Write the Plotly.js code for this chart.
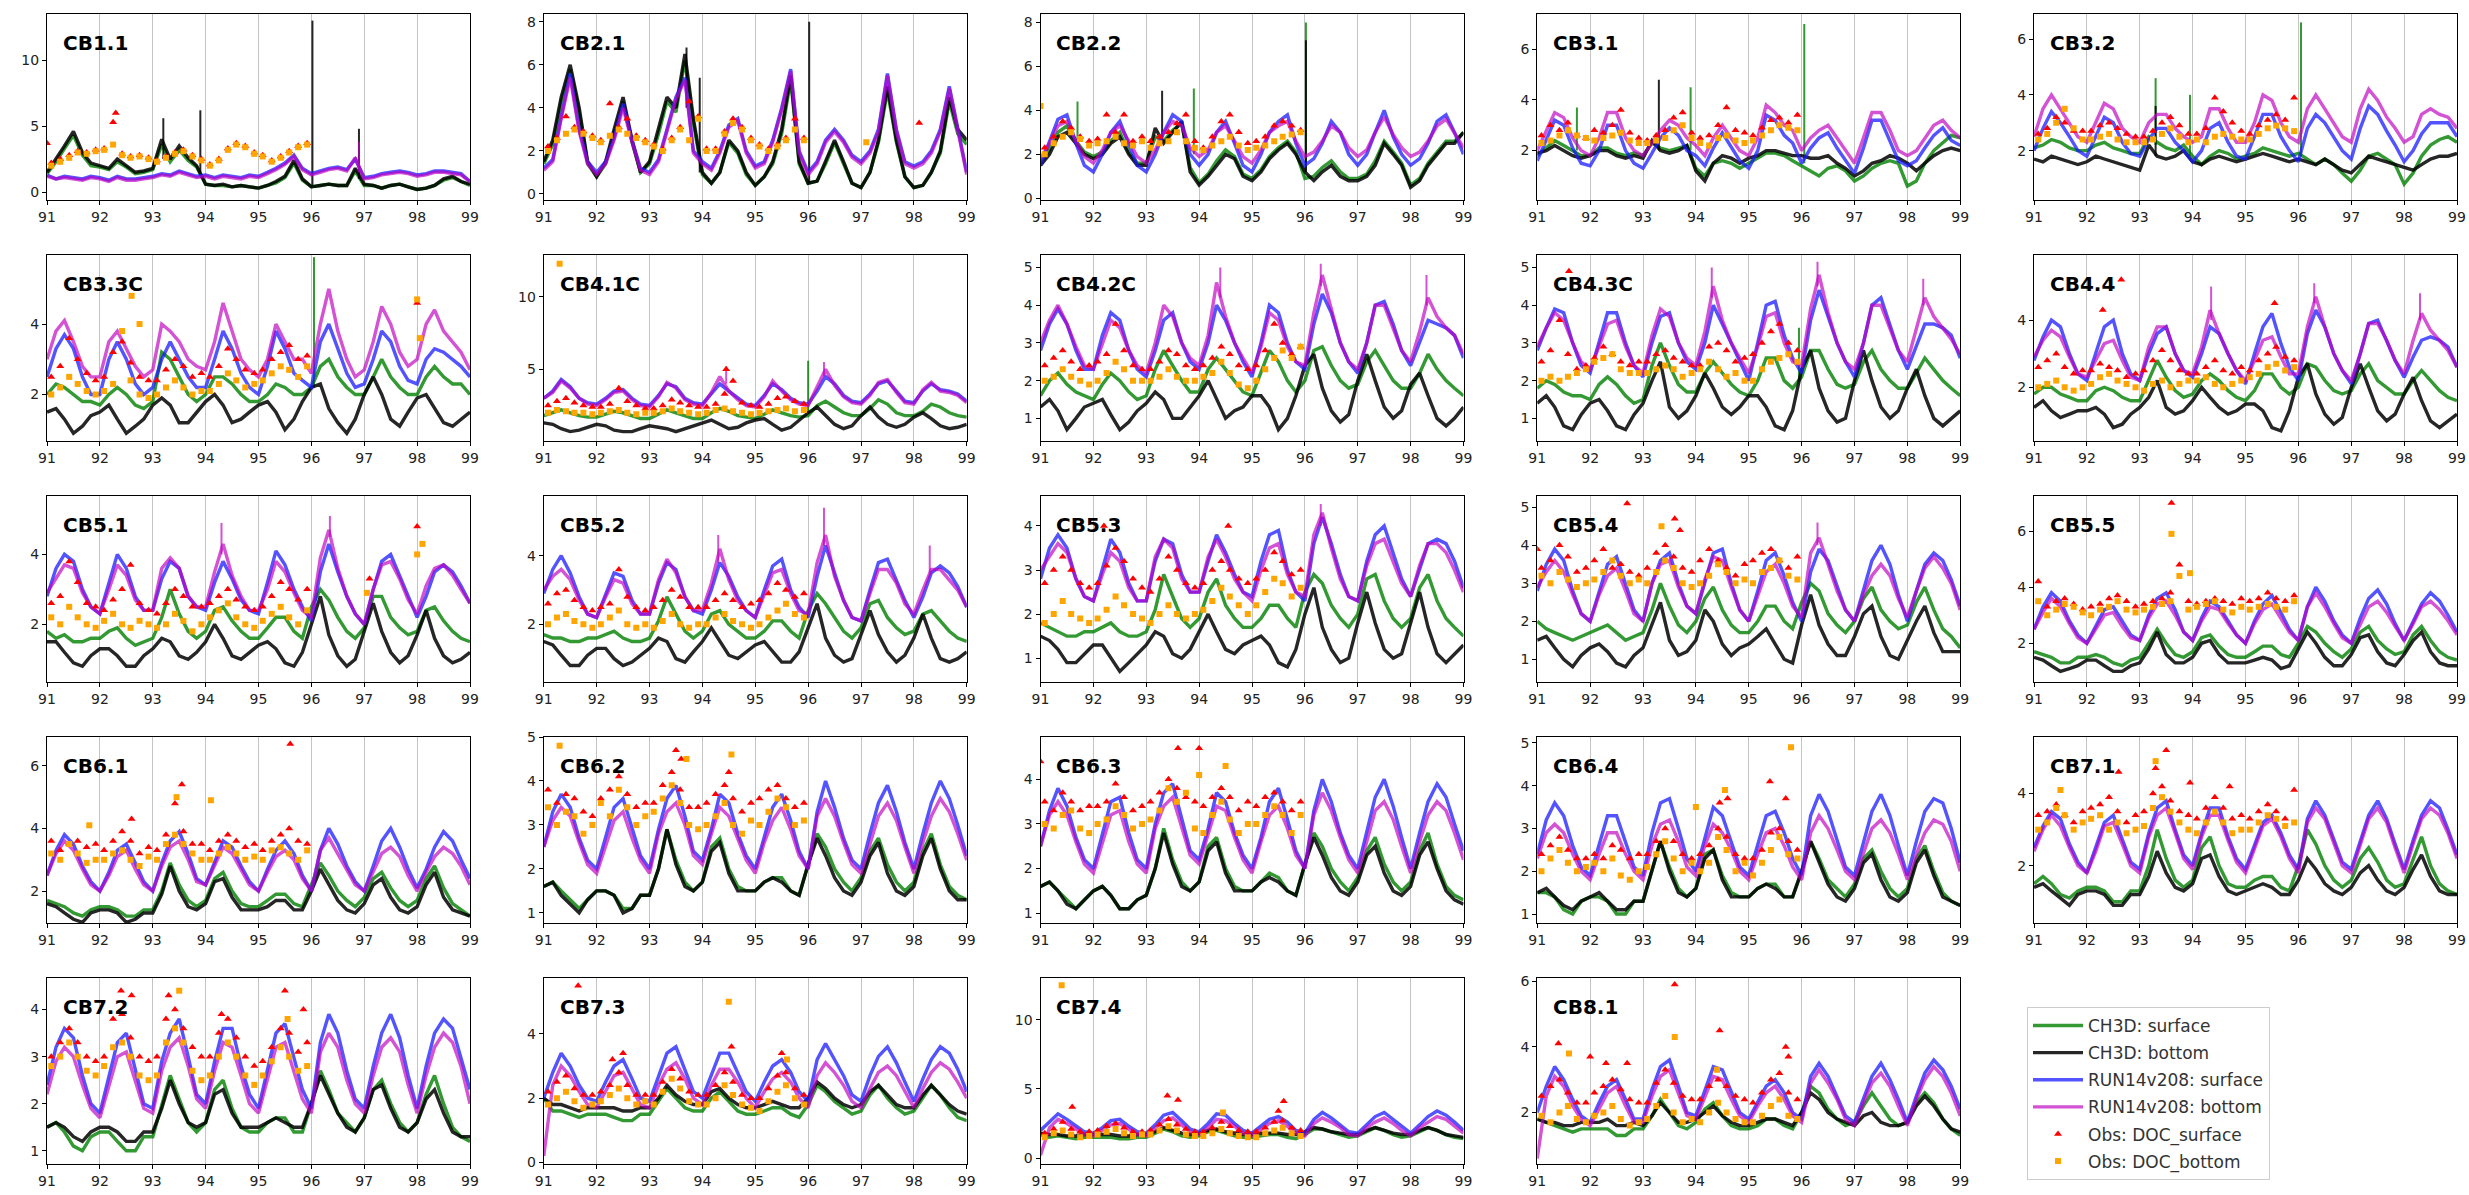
<!DOCTYPE html>
<html>
<head>
<meta charset="utf-8">
<script src="https://cdn.plot.ly/plotly-3.0.1.min.js"></script>
<style>
  html, body { margin: 0; padding: 0; background: #ffffff; }
  #chart { width: 2469px; height: 1195px; }
</style>
</head>
<body>
<div id="chart"></div>
<script>
// ---------------------------------------------------------------------------
// DOC time series (mg/L) at Chesapeake Bay stations, 1991-1999.
// Model output sampled every two months; observations 1991-1995.
// ---------------------------------------------------------------------------

const stations = ['CB1.1','CB2.1','CB2.2','CB3.1','CB3.2','CB3.3C','CB4.1C','CB4.2C','CB4.3C','CB4.4',
                  'CB5.1','CB5.2','CB5.3','CB5.4','CB5.5','CB6.1','CB6.2','CB6.3','CB6.4','CB7.1',
                  'CB7.2','CB7.3','CB7.4','CB8.1'];

const seriesNames = ['CH3D: surface','CH3D: bottom','RUN14v208: surface','RUN14v208: bottom',
                     'Obs: DOC_surface','Obs: DOC_bottom'];

const yearTicks = [91,92,93,94,95,96,97,98,99];
const yearTickText = ['91','92','93','94','95','96','97','98','99'];

// model sample times (decimal year, two-month steps)
const tModel = [91,91.17,91.33,91.5,91.67,91.83, 92,92.17,92.33,92.5,92.67,92.83,
                93,93.17,93.33,93.5,93.67,93.83, 94,94.17,94.33,94.5,94.67,94.83,
                95,95.17,95.33,95.5,95.67,95.83, 96,96.17,96.33,96.5,96.67,96.83,
                97,97.17,97.33,97.5,97.67,97.83, 98,98.17,98.33,98.5,98.67,98.83, 99];

// observation times (decimal year)
const tObs = [91.08,91.25,91.42,91.58,91.75,91.92, 92.08,92.25,92.42,92.58,92.75,92.92,
              93.08,93.25,93.42,93.58,93.75,93.92, 94.08,94.25,94.42,94.58,94.75,94.92,
              95.08,95.25,95.42,95.58,95.75,95.92];

// ---- CB1.1 ----
const cb11_ch3dSurf = [1.4,2.3,3.3,4.3,2.8,2.0, 1.9,1.7,2.3,1.9,1.4,1.5, 1.7,3.6,2.3,3.2,2.4,1.9, 0.6,0.5,0.5,0.4,0.5,0.4, 0.3,0.5,0.7,1.1,2.2,0.9, 0.4,0.5,0.6,0.5,0.5,1.6, 0.5,0.5,0.3,0.5,0.6,0.4, 0.2,0.3,0.5,0.9,1.1,0.8, 0.5];
const cb11_ch3dBot  = [1.5,2.5,3.5,4.6,3.0,2.2, 2.0,1.8,2.5,2.0,1.5,1.6, 1.8,4.0,2.5,3.5,2.6,2.0, 0.6,0.5,0.6,0.4,0.5,0.4, 0.3,0.5,0.8,1.2,2.4,1.0, 0.4,0.5,0.6,0.5,0.5,1.8, 0.6,0.5,0.3,0.5,0.6,0.4, 0.2,0.3,0.5,1.0,1.2,0.8, 0.6];
const cb11_runSurf  = [1.3,1.0,1.2,1.1,1.0,1.2, 1.1,0.9,1.2,1.0,1.0,1.1, 1.2,1.4,1.3,1.6,1.4,1.2, 1.3,1.1,1.3,1.2,1.1,1.3, 1.2,1.5,1.8,2.2,2.8,1.8, 1.4,1.6,1.8,1.9,1.7,2.5, 1.1,1.2,1.4,1.5,1.6,1.5, 1.3,1.4,1.6,1.6,1.5,1.4, 0.8];
const cb11_runBot   = [1.2,1.0,1.1,1.0,0.9,1.1, 1.0,0.8,1.1,0.9,0.9,1.0, 1.1,1.3,1.2,1.5,1.3,1.1, 1.2,1.0,1.2,1.1,1.0,1.2, 1.1,1.4,1.7,2.1,2.7,1.7, 1.3,1.5,1.7,1.8,1.6,2.6, 1.0,1.1,1.3,1.4,1.5,1.4, 1.2,1.3,1.5,1.5,1.4,1.3, 0.8];
const cb11_obsSurf  = [2.2,2.5,2.8,3.1,3.0,3.2, 3.3,5.3,2.9,2.7,2.8,2.6, 2.4,2.7,3.0,3.2,2.8,2.5, 2.1,2.5,3.3,3.7,3.5,3.0, 2.8,2.4,2.7,3.1,3.5,3.7];
const cb11_obsBot   = [2.0,2.3,2.6,3.0,2.9,3.1, 3.2,3.6,2.8,2.6,2.7,2.5, 2.3,2.6,2.9,3.1,2.7,2.4, 2.0,2.4,3.2,3.6,3.4,2.9, 2.7,2.3,2.6,3.0,3.4,3.6];

// ---- CB2.1 ----
const cb21_ch3dSurf = [1.4,2.3,4.3,5.8,3.8,1.4, 0.8,1.4,2.8,4.3,2.4,1.0, 1.4,2.8,4.3,3.8,6.2,3.3, 0.9,0.5,1.0,2.4,1.9,0.9, 0.4,0.8,1.4,2.8,5.3,1.4, 0.5,0.6,1.4,2.4,1.4,0.5, 0.3,1.0,2.4,4.8,2.4,0.8, 0.3,0.4,1.0,1.9,4.3,2.8, 2.3];
const cb21_ch3dBot  = [1.5,2.5,4.5,6.0,4.0,1.5, 0.8,1.5,3.0,4.5,2.5,1.0, 1.5,3.0,4.5,4.0,6.5,3.5, 1.0,0.5,1.0,2.5,2.0,1.0, 0.4,0.8,1.5,3.0,5.5,1.5, 0.5,0.6,1.5,2.5,1.5,0.5, 0.3,1.0,2.5,5.0,2.5,0.8, 0.3,0.4,1.0,2.0,4.5,3.0, 2.5];
const cb21_runSurf  = [1.2,1.6,3.6,5.6,3.0,1.5, 1.0,1.5,2.6,4.2,2.5,1.2, 1.0,1.6,3.0,4.5,5.4,2.0, 1.5,1.2,2.0,3.2,3.5,2.0, 1.3,1.5,2.5,4.0,5.8,2.0, 1.0,1.5,2.5,3.0,2.5,1.8, 1.5,2.0,3.0,5.6,3.0,1.5, 1.3,1.5,2.0,3.0,5.0,3.0, 1.0];
const cb21_runBot   = [1.1,1.5,3.5,5.4,2.9,1.4, 0.9,1.4,2.5,4.0,2.4,1.1, 0.9,1.5,2.9,4.4,5.3,1.9, 1.4,1.1,1.9,3.1,3.4,1.9, 1.2,1.4,2.4,3.9,5.7,1.9, 0.9,1.4,2.4,2.9,2.4,1.7, 1.4,1.9,2.9,5.5,2.9,1.4, 1.2,1.4,1.9,2.9,4.9,2.9, 0.9];
const cb21_obsSurf  = [2.2,2.6,3.6,3.1,2.9,2.7, 2.5,4.2,3.1,3.5,2.7,2.5, 2.3,2.1,2.6,3.1,4.3,3.6, 2.1,2.1,2.9,3.5,3.1,2.6, 2.3,2.1,2.3,2.6,3.5,2.6];
const cb21_obsBot   = [2.0,2.5,2.8,3.0,2.8,2.6, 2.4,2.7,3.0,2.8,2.6,2.4, 2.2,2.0,2.5,3.0,2.5,3.5, 2.0,2.0,2.8,3.3,3.0,2.5, 2.2,2.0,2.2,2.5,3.0,2.5];

// ---- CB2.2 ----
const cb22_ch3dSurf = [1.6,2.2,3.0,3.3,2.6,2.1, 1.9,2.1,2.6,3.0,2.1,1.6, 1.6,2.8,2.6,3.1,3.4,1.4, 0.7,1.1,1.7,2.2,1.9,1.1, 0.9,1.3,1.9,2.3,2.6,2.1, 0.9,1.0,1.4,1.7,1.2,0.9, 0.9,1.1,1.7,2.6,2.1,1.6, 0.6,0.9,1.6,2.1,2.6,2.6, 3.0];
const cb22_ch3dBot  = [1.5,2.0,2.8,3.0,2.5,2.0, 1.8,2.0,2.5,2.8,2.0,1.5, 1.5,3.2,2.5,3.0,3.5,1.2, 0.6,1.0,1.5,2.0,1.8,1.0, 0.8,1.2,1.8,2.2,2.5,2.0, 1.2,0.8,1.2,1.5,1.0,0.8, 0.8,1.0,1.5,2.5,2.0,1.5, 0.5,0.8,1.5,2.0,2.5,2.5, 3.0];
const cb22_runSurf  = [1.5,2.6,3.6,3.8,2.5,1.5, 1.2,2.0,3.0,3.5,2.5,1.5, 1.2,2.0,3.0,3.8,3.5,2.0, 1.5,2.0,3.0,3.5,2.5,1.5, 1.2,2.0,3.0,3.5,3.8,2.5, 1.5,1.8,2.5,3.5,3.0,2.0, 1.5,2.0,3.0,4.0,2.8,2.0, 1.5,1.8,2.5,3.5,3.8,3.0, 2.0];
const cb22_runBot   = [1.8,2.5,3.3,3.5,2.6,1.9, 1.6,2.2,3.0,3.3,2.6,1.9, 1.6,2.2,3.0,3.5,3.3,2.3, 1.9,2.2,3.0,3.3,2.6,1.9, 1.6,2.2,3.0,3.3,3.5,2.6, 1.9,2.1,2.6,3.3,3.0,2.3, 1.9,2.2,3.0,3.7,2.9,2.3, 1.9,2.1,2.6,3.3,3.6,3.0, 2.3];
const cb22_obsSurf  = [2.3,2.8,3.5,3.2,2.8,2.6, 2.7,3.8,3.0,3.8,2.6,2.8, 2.6,2.8,3.0,3.4,3.8,2.6, 2.3,2.8,3.5,3.8,3.0,2.5, 2.6,2.8,3.3,3.5,3.3,3.1];
const cb22_obsBot   = [2.0,2.5,2.8,3.0,2.7,2.4, 2.5,2.6,2.8,2.5,2.4,2.6, 2.3,2.5,2.6,3.0,2.6,2.3, 2.2,2.4,2.6,2.8,2.4,2.2, 2.3,2.4,2.6,2.8,2.9,3.0];

// ---- CB3.1 ----
const cb31_ch3dSurf = [1.8,2.1,2.4,2.2,2.0,1.8, 1.8,2.1,2.1,1.9,1.8,1.9, 1.8,2.3,2.1,2.0,2.1,2.2, 1.3,1.0,1.5,1.6,1.5,1.3, 1.5,1.7,1.9,1.9,1.8,1.6, 1.4,1.2,1.0,1.3,1.4,1.2, 0.8,1.0,1.3,1.5,1.6,1.5, 0.6,0.8,1.5,2.0,2.3,2.6, 2.5];
const cb31_ch3dBot  = [1.9,2.0,2.2,2.0,1.8,1.7, 1.8,2.0,2.0,1.8,1.7,1.8, 1.7,2.4,2.0,1.9,2.0,2.2, 1.2,0.8,1.5,1.8,1.7,1.5, 1.7,1.8,2.0,2.0,1.9,1.8, 1.8,1.7,1.7,1.8,1.5,1.3, 1.0,1.2,1.5,1.6,1.8,1.7, 1.5,1.2,1.5,1.8,2.0,2.1, 2.0];
const cb31_runSurf  = [1.6,2.4,3.2,3.0,2.1,1.5, 1.4,2.0,3.0,3.0,2.0,1.5, 1.3,1.9,2.5,2.9,2.6,2.0, 1.8,1.4,2.1,2.7,2.1,1.6, 1.3,2.0,3.4,3.2,2.6,2.3, 1.5,2.1,2.5,2.7,2.1,1.6, 1.1,2.1,3.2,3.2,2.4,1.6, 1.4,1.6,2.1,2.6,2.9,2.4, 2.2];
const cb31_runBot   = [2.0,2.8,3.5,3.3,2.5,2.0, 1.8,2.5,3.5,3.5,2.5,2.0, 1.8,2.3,2.8,3.2,3.0,2.5, 2.2,1.8,2.5,3.0,2.5,2.0, 1.8,2.5,3.8,3.5,3.0,2.8, 2.0,2.5,2.8,3.0,2.5,2.0, 1.5,2.5,3.5,3.5,2.8,2.0, 1.8,2.0,2.5,3.0,3.2,2.8, 2.5];
const cb31_obsSurf  = [2.6,3.0,2.8,3.1,2.6,2.5, 2.8,2.7,3.0,3.6,2.7,2.5, 2.4,2.6,2.8,3.3,3.5,2.7, 2.5,2.6,3.0,3.7,2.8,2.7, 2.6,2.9,3.2,3.3,3.1,3.4];
const cb31_obsBot   = [2.3,2.4,2.6,2.8,2.6,2.5, 2.4,2.5,2.6,2.7,2.4,2.3, 2.3,2.4,2.5,2.8,3.0,2.5, 2.3,2.2,2.5,2.6,2.4,2.3, 2.4,2.6,2.8,3.0,2.9,2.8];

// ---- CB3.2 ----
const cb32_ch3dSurf = [2.1,2.2,2.4,2.3,2.1,2.0, 2.0,2.2,2.3,2.1,2.0,1.9, 1.9,2.5,2.3,2.1,2.0,2.2, 1.8,1.5,1.8,2.0,1.9,1.7, 1.8,1.9,2.1,2.0,1.9,1.8, 1.9,1.7,1.5,1.7,1.5,1.2, 0.9,1.3,1.8,1.9,1.7,1.5, 0.8,1.2,1.8,2.2,2.4,2.5, 2.3];
const cb32_ch3dBot  = [1.7,1.6,1.8,1.7,1.6,1.5, 1.6,1.8,1.7,1.6,1.5,1.4, 1.3,2.2,1.8,1.7,1.8,2.0, 1.6,1.5,1.7,1.8,1.7,1.6, 1.7,1.8,1.9,1.8,1.7,1.6, 1.7,1.6,1.5,1.7,1.5,1.3, 1.2,1.5,1.8,1.7,1.6,1.5, 1.4,1.3,1.5,1.7,1.8,1.8, 1.9];
const cb32_runSurf  = [2.0,2.8,3.4,3.0,2.5,2.0, 1.8,2.5,3.2,3.0,2.3,1.9, 1.8,2.4,2.8,2.8,2.3,2.0, 1.6,2.0,2.8,3.0,2.3,1.8, 1.7,2.5,3.3,3.3,2.5,2.0, 1.6,2.8,3.3,3.0,2.5,2.0, 1.7,2.8,3.6,3.3,2.7,2.2, 1.6,2.0,2.6,3.0,3.0,3.0, 2.5];
const cb32_runBot   = [2.5,3.5,4.0,3.5,3.0,2.5, 2.3,3.0,3.7,3.5,2.8,2.5, 2.3,3.0,3.3,3.3,2.8,2.5, 2.3,2.5,3.5,3.5,2.8,2.3, 2.3,3.0,4.0,3.8,3.0,2.5, 2.3,3.5,4.0,3.5,3.0,2.5, 2.3,3.5,4.2,3.8,3.2,2.8, 2.3,2.5,3.3,3.5,3.3,3.2, 2.8];
const cb32_obsSurf  = [2.6,2.8,3.2,3.0,2.7,2.7, 2.7,2.9,3.0,2.8,2.6,2.5, 2.5,2.7,3.0,3.2,2.9,2.6, 2.6,2.8,3.9,3.4,3.0,2.7, 2.6,2.9,3.1,3.3,3.1,3.9];
const cb32_obsBot   = [2.4,2.6,3.0,3.5,2.8,2.4, 2.4,2.5,2.6,2.4,2.3,2.3, 2.3,2.4,2.6,2.8,2.5,2.3, 2.4,2.3,2.5,2.6,2.5,2.4, 2.4,2.6,2.8,2.9,2.8,2.7];

// ---- CB3.3C ----
const cb33c_ch3dSurf = [2.0,2.3,2.2,2.0,1.8,1.8, 1.7,2.0,2.2,2.0,1.7,1.6, 1.8,3.2,3.0,2.5,2.0,1.8, 2.0,2.5,2.5,2.3,2.0,1.8, 1.8,2.0,2.3,2.2,2.0,2.0, 2.2,2.8,3.0,2.5,2.2,2.0, 2.0,2.5,3.0,2.5,2.2,2.0, 2.0,2.5,2.8,2.5,2.3,2.3, 2.0];
const cb33c_ch3dBot  = [1.5,1.6,1.3,0.9,1.1,1.4, 1.5,1.7,1.3,0.9,1.1,1.3, 1.7,1.9,1.7,1.2,1.2,1.5, 1.8,2.0,1.7,1.2,1.3,1.5, 1.7,1.8,1.5,1.0,1.3,1.8, 2.2,2.3,1.6,1.2,0.9,1.3, 2.0,2.5,2.0,1.3,1.1,1.5, 1.9,2.0,1.6,1.2,1.1,1.3, 1.5];
const cb33c_runSurf  = [2.5,3.3,3.7,3.3,2.5,2.0, 2.0,3.0,3.5,3.0,2.3,2.0, 2.2,3.0,3.5,3.0,2.5,2.2, 2.2,3.0,3.8,3.3,2.6,2.2, 2.0,2.8,3.8,3.3,2.6,2.4, 2.2,3.5,4.0,3.3,2.6,2.2, 2.3,3.0,3.8,3.5,2.8,2.4, 2.3,3.0,3.3,3.2,3.0,2.8, 2.5];
const cb33c_runBot   = [3.0,3.8,4.1,3.5,2.8,2.5, 2.5,3.5,3.8,3.3,2.8,2.5, 2.7,4.0,3.8,3.5,3.0,2.8, 2.7,3.5,4.6,3.8,3.0,2.7, 2.5,3.0,4.0,3.5,3.0,3.0, 2.6,4.0,5.0,3.8,3.0,2.5, 2.7,3.5,4.5,4.0,3.2,2.8, 3.0,4.0,4.4,3.8,3.5,3.2, 2.7];
const cb33c_obsSurf  = [2.5,2.8,3.6,3.0,2.6,2.4, 2.5,3.2,3.5,2.9,2.5,2.4, 2.4,2.7,3.0,2.8,2.5,2.6, 2.5,2.8,3.3,3.0,2.7,2.6, 2.7,3.0,3.2,3.4,3.0,3.1];
const cb33c_obsBot   = [2.0,2.2,2.5,2.3,2.1,2.0, 2.1,2.3,3.8,2.4,2.0,1.9, 2.0,2.2,2.4,2.2,2.0,2.1, 2.1,2.3,2.6,2.4,2.2,2.3, 2.4,2.6,2.8,2.7,2.5,2.8];

// ---- CB4.1C ----
const cb41c_ch3dSurf = [1.8,2.0,2.2,2.0,1.8,1.7, 1.7,1.9,2.1,2.0,1.8,1.6, 1.6,1.9,2.2,2.0,1.8,1.6, 1.6,2.0,2.3,2.1,1.8,1.7, 1.6,1.9,2.2,2.0,1.8,1.7, 1.8,2.5,2.8,2.4,2.0,1.8, 1.8,2.3,2.9,2.6,2.0,1.8, 1.8,2.1,2.6,2.4,2.0,1.8, 1.7];
const cb41c_ch3dBot  = [1.3,1.2,0.9,0.7,0.8,1.0, 1.2,1.1,0.8,0.7,0.7,0.9, 1.1,1.0,0.9,0.7,0.9,1.1, 1.3,1.5,1.2,0.9,1.0,1.3, 1.5,1.6,1.2,0.8,1.0,1.5, 2.0,2.4,1.8,1.2,0.9,1.1, 1.8,2.4,1.7,1.2,1.0,1.2, 1.7,2.0,1.6,1.1,0.9,1.0, 1.2];
const cb41c_runSurf  = [3.0,3.5,4.3,3.8,3.0,2.7, 2.6,3.0,3.5,3.6,3.0,2.6, 2.5,3.2,4.0,3.8,3.0,2.7, 2.6,3.3,4.0,3.5,3.0,2.6, 2.5,3.2,4.0,3.6,3.0,2.7, 2.6,3.5,4.5,4.0,3.2,2.8, 2.7,3.3,4.0,4.2,3.5,2.8, 2.7,3.5,4.0,3.6,3.5,3.3, 2.8];
const cb41c_runBot   = [3.0,3.4,4.2,3.7,3.0,2.6, 2.5,2.9,3.4,3.5,2.9,2.5, 2.4,3.1,4.1,3.7,2.9,2.6, 2.5,3.4,4.5,3.5,2.9,2.5, 2.4,3.1,4.2,3.5,2.9,2.6, 2.5,3.8,5.0,3.9,3.1,2.7, 2.6,3.2,4.1,4.3,3.4,2.7, 2.6,3.6,4.1,3.5,3.4,3.2, 2.7];
const cb41c_obsSurf  = [2.5,2.8,3.0,2.7,2.5,2.4, 2.4,2.6,3.7,2.8,2.5,2.3, 2.3,2.5,2.9,2.7,2.5,2.4, 2.4,2.6,3.3,4.2,2.7,2.5, 2.4,2.6,3.0,3.1,2.8,2.6];
const cb41c_obsBot   = [2.0,2.2,2.1,2.0,2.0,1.9, 2.0,2.1,2.2,2.0,1.9,2.0, 2.0,2.1,2.3,2.1,2.0,1.9, 2.0,2.2,2.3,2.1,2.0,1.9, 2.0,2.1,2.2,2.3,2.1,2.2];

// ---- CB4.2C ----
const cb42c_ch3dSurf = [1.6,2.0,2.2,1.9,1.7,1.6, 1.5,1.9,2.2,2.0,1.7,1.5, 1.6,2.3,2.8,2.4,2.0,1.7, 1.7,2.3,2.6,2.3,2.0,1.7, 1.6,2.2,2.8,2.5,2.0,1.7, 2.0,2.8,2.9,2.4,2.0,1.8, 1.9,2.5,2.8,2.4,2.0,1.8, 1.8,2.2,2.7,2.3,2.0,1.8, 1.6];
const cb42c_ch3dBot  = [1.3,1.5,1.2,0.7,1.0,1.3, 1.4,1.5,1.1,0.7,0.9,1.2, 1.4,1.7,1.5,1.0,1.0,1.3, 1.6,2.0,1.5,1.0,1.2,1.3, 1.6,1.6,1.3,0.7,1.0,1.6, 2.4,2.7,1.8,1.2,0.9,1.1, 2.0,2.7,2.0,1.3,1.0,1.2, 1.9,2.2,1.6,1.0,0.8,1.0, 1.3];
const cb42c_runSurf  = [2.8,3.5,3.9,3.5,2.8,2.3, 2.3,3.2,3.8,3.6,2.8,2.3, 2.1,2.8,3.6,3.8,3.0,2.5, 2.3,3.0,4.0,3.6,3.0,2.5, 2.1,3.0,4.0,3.8,3.0,2.5, 2.3,3.5,4.3,3.8,3.0,2.5, 2.2,3.0,4.0,4.1,3.5,2.8, 2.4,3.0,3.6,3.5,3.4,3.2, 2.6];
const cb42c_runBot   = [3.0,3.6,4.0,3.5,2.9,2.4, 2.3,3.0,3.6,3.4,2.8,2.4, 2.2,3.0,4.0,3.7,3.0,2.6, 2.4,3.2,4.6,3.7,3.0,2.6, 2.2,2.9,3.8,3.6,2.9,2.5, 2.4,3.8,4.8,3.9,3.0,2.5, 2.3,3.0,4.0,4.0,3.4,2.8, 2.5,3.3,4.2,3.7,3.4,3.2, 2.7];
const cb42c_obsSurf  = [2.4,2.6,2.8,2.5,2.3,2.4, 2.5,2.7,3.5,2.8,2.4,2.3, 2.3,2.5,2.8,2.7,2.4,2.3, 2.4,2.6,2.9,2.7,2.4,2.3, 2.4,2.8,3.5,3.0,2.7,2.9];
const cb42c_obsBot   = [2.0,2.1,2.3,2.1,2.0,1.9, 2.0,2.2,2.5,2.3,2.0,2.0, 2.0,2.1,2.3,2.1,2.0,2.0, 2.1,2.2,2.5,2.2,1.9,1.8, 2.0,2.3,2.6,2.8,2.6,2.9];

// ---- CB4.3C ----
const cb43c_ch3dSurf = [1.8,2.0,1.9,1.7,1.6,1.6, 1.5,1.9,2.1,1.9,1.6,1.4, 1.5,2.4,3.0,2.4,1.9,1.7, 1.7,2.2,2.5,2.2,1.9,1.7, 1.6,2.0,2.6,2.6,2.0,1.8, 2.1,2.8,2.8,2.3,1.9,1.8, 1.9,2.5,2.8,2.3,2.0,1.8, 1.8,2.2,2.6,2.3,2.0,1.8, 1.6];
const cb43c_ch3dBot  = [1.4,1.6,1.3,0.8,0.7,1.1, 1.4,1.5,1.2,0.8,0.7,1.1, 1.4,2.0,2.5,1.3,1.0,1.2, 1.6,2.2,1.8,1.3,1.1,1.3, 1.6,1.6,1.3,0.8,0.7,1.2, 2.3,2.8,1.8,1.2,0.9,1.0, 2.0,2.8,2.0,1.3,1.0,1.2, 1.8,2.3,1.6,1.0,0.8,1.0, 1.2];
const cb43c_runSurf  = [2.8,3.4,3.9,3.8,3.0,2.4, 2.2,3.0,3.8,3.8,3.0,2.4, 2.1,3.0,3.7,3.8,3.0,2.5, 2.3,3.0,4.0,3.5,3.0,2.5, 2.0,3.0,4.0,4.1,3.2,2.6, 2.2,3.6,4.4,3.7,3.0,2.5, 2.1,3.0,4.0,4.2,3.5,2.8, 2.3,2.9,3.5,3.5,3.4,3.2, 2.6];
const cb43c_runBot   = [2.9,3.4,3.8,3.6,3.0,2.5, 2.3,2.9,3.5,3.6,2.9,2.4, 2.2,3.2,3.9,3.7,3.0,2.6, 2.4,3.3,4.5,3.6,3.0,2.6, 2.2,2.9,3.7,3.8,3.0,2.5, 2.4,3.9,4.8,3.8,3.0,2.5, 2.3,3.0,4.0,4.0,3.4,2.8, 2.5,3.4,4.2,3.7,3.4,3.1, 2.7];
const cb43c_obsSurf  = [2.5,2.8,3.6,2.7,2.3,2.4, 2.6,2.9,2.7,2.5,2.4,2.5, 2.5,2.7,2.8,2.6,2.5,2.4, 2.4,2.9,3.0,2.8,2.5,2.6, 2.7,3.0,3.3,3.5,3.0,2.8];
const cb43c_obsBot   = [2.0,2.1,2.0,2.1,2.2,2.3, 2.5,2.6,2.7,2.3,2.2,2.2, 2.2,2.3,2.4,2.3,2.1,2.2, 2.3,2.5,2.3,2.1,2.2,2.0, 2.0,2.3,2.5,2.6,2.7,2.5];

// ---- CB4.4 ----
const cb44_ch3dSurf = [1.8,2.0,2.0,1.8,1.7,1.6, 1.6,1.9,2.0,1.9,1.7,1.6, 1.6,2.2,2.8,2.3,1.9,1.7, 1.8,2.2,2.4,2.2,1.9,1.7, 1.6,1.9,2.4,2.4,2.0,1.8, 2.0,2.7,2.6,2.2,1.9,1.8, 1.9,2.4,2.7,2.2,2.0,1.8, 1.8,2.2,2.5,2.2,1.9,1.7, 1.6];
const cb44_ch3dBot  = [1.4,1.6,1.3,1.1,1.2,1.3, 1.3,1.4,1.2,0.8,0.9,1.2, 1.4,1.7,2.2,1.4,1.2,1.3, 1.6,2.0,1.7,1.4,1.2,1.3, 1.5,1.5,1.3,0.8,0.7,1.3, 2.3,2.7,1.8,1.2,0.9,1.1, 2.0,2.7,2.0,1.3,1.0,1.2, 1.8,2.3,1.6,1.0,0.8,1.0, 1.2];
const cb44_runSurf  = [2.8,3.5,4.0,3.8,3.0,2.4, 2.2,3.0,3.8,4.0,3.0,2.4, 2.2,3.0,3.6,3.8,3.0,2.5, 2.3,3.0,3.8,3.6,3.0,2.5, 2.1,3.0,3.8,4.2,3.3,2.6, 2.2,3.6,4.3,3.8,3.0,2.5, 2.1,3.0,3.9,4.0,3.4,2.8, 2.3,2.9,3.4,3.5,3.4,3.2, 2.6];
const cb44_runBot   = [2.9,3.4,3.7,3.5,2.9,2.4, 2.3,2.8,3.3,3.4,2.8,2.3, 2.2,3.2,3.8,3.8,3.0,2.5, 2.4,3.2,4.3,3.6,3.0,2.5, 2.2,2.8,3.4,3.5,2.9,2.4, 2.4,3.8,4.7,3.8,3.0,2.5, 2.2,3.0,3.9,3.9,3.4,2.8, 2.4,3.4,4.2,3.7,3.4,3.1, 2.6];
const cb44_obsSurf  = [2.6,2.8,3.0,2.6,2.4,2.5, 2.5,2.7,2.6,2.5,2.3,2.4, 2.5,2.8,3.1,2.8,2.5,2.4, 2.4,2.6,2.8,2.5,2.4,2.6, 2.5,2.8,3.0,3.2,2.9,2.8];
const cb44_obsBot   = [2.0,2.1,2.2,2.0,1.9,2.0, 2.1,2.3,2.4,2.2,2.1,2.0, 1.9,2.1,2.2,2.0,2.1,2.2, 2.2,2.3,2.1,2.0,2.1,2.2, 2.3,2.4,2.6,2.7,2.5,2.6];

// ---- CB5.1 ----
const cb51_ch3dSurf = [1.8,1.6,1.7,1.5,1.5,1.6, 1.6,1.8,1.9,1.6,1.4,1.5, 1.6,2.2,3.0,2.3,1.8,1.6, 1.8,2.4,2.5,2.1,1.8,1.6, 1.6,1.9,2.2,2.2,1.8,1.6, 2.5,3.0,2.7,2.2,1.8,1.6, 1.9,2.8,2.8,2.2,1.9,1.7, 1.8,2.4,2.5,2.1,1.8,1.6, 1.5];
const cb51_ch3dBot  = [1.5,1.5,1.2,0.9,0.8,1.1, 1.3,1.3,1.1,0.8,0.8,1.1, 1.3,1.6,1.5,1.1,1.0,1.2, 1.5,2.0,1.6,1.1,1.0,1.2, 1.4,1.5,1.3,0.9,0.8,1.2, 2.0,2.8,1.7,1.1,0.8,1.0, 1.8,2.6,1.8,1.2,0.9,1.1, 1.7,2.4,1.6,1.1,0.9,1.0, 1.2];
const cb51_runSurf  = [2.8,3.6,4.0,3.8,3.0,2.5, 2.3,3.2,4.0,3.6,2.8,2.4, 2.4,3.3,3.8,3.6,2.8,2.5, 2.4,3.2,3.8,3.3,2.7,2.4, 2.3,3.2,4.1,3.7,3.0,2.5, 2.1,3.5,4.3,3.5,2.8,2.3, 2.0,3.0,3.8,4.0,3.4,2.8, 2.2,2.8,3.5,3.7,3.5,3.1, 2.6];
const cb51_runBot   = [2.9,3.3,3.7,3.6,2.9,2.5, 2.3,3.0,3.7,3.4,2.7,2.4, 2.4,3.6,3.9,3.6,2.8,2.5, 2.5,3.5,4.3,3.4,2.8,2.4, 2.4,3.0,3.8,3.5,2.9,2.4, 2.2,3.9,4.7,3.6,2.8,2.3, 2.0,3.0,3.7,3.8,3.3,2.7, 2.3,3.1,3.6,3.7,3.4,3.0, 2.6];
const cb51_obsSurf  = [2.6,2.8,3.8,3.2,2.6,2.5, 2.4,2.7,3.0,3.7,2.6,2.4, 2.3,2.6,3.0,2.8,2.5,2.5, 2.6,2.8,3.0,2.7,2.5,2.4, 2.5,2.8,3.2,3.0,2.7,3.0];
const cb51_obsBot   = [2.2,2.0,2.5,2.2,2.0,1.9, 2.1,2.3,2.0,1.9,2.1,2.0, 1.9,2.0,2.3,2.1,1.8,2.0, 2.2,2.4,2.6,2.2,2.0,1.9, 2.1,2.3,2.5,2.2,2.0,2.4];

// ---- CB5.2 ----
const cb52_ch3dSurf = [1.7,1.6,1.6,1.5,1.5,1.6, 1.6,1.7,1.8,1.6,1.5,1.5, 1.6,2.1,2.8,2.3,1.8,1.6, 1.8,2.3,2.4,2.0,1.8,1.6, 1.6,1.8,2.1,2.1,1.8,1.6, 2.4,2.9,2.6,2.2,1.8,1.6, 1.9,2.6,2.7,2.2,1.9,1.7, 1.8,2.3,2.4,2.1,1.8,1.6, 1.5];
const cb52_ch3dBot  = [1.5,1.4,1.1,0.8,0.8,1.1, 1.3,1.3,1.0,0.8,0.9,1.1, 1.3,1.6,1.5,1.0,0.9,1.2, 1.5,1.9,1.5,1.1,1.0,1.2, 1.4,1.5,1.2,0.9,0.9,1.2, 1.9,2.6,1.6,1.1,0.9,1.0, 1.7,2.4,1.7,1.2,0.9,1.1, 1.6,2.3,1.6,1.0,0.9,1.0, 1.2];
const cb52_runSurf  = [2.9,3.6,4.0,3.5,2.8,2.3, 2.2,2.9,3.5,3.4,2.7,2.3, 2.3,3.2,3.8,3.6,2.8,2.4, 2.3,3.0,3.8,3.4,2.8,2.4, 2.2,3.0,3.7,3.9,3.0,2.5, 2.2,3.4,4.3,3.5,2.7,2.2, 2.1,3.0,3.8,3.9,3.3,2.7, 2.2,2.8,3.5,3.7,3.5,3.1, 2.5];
const cb52_runBot   = [3.0,3.4,3.6,3.3,2.7,2.3, 2.2,2.8,3.3,3.2,2.6,2.3, 2.3,3.3,3.9,3.5,2.8,2.4, 2.4,3.2,4.2,3.3,2.7,2.4, 2.2,2.9,3.5,3.6,2.9,2.4, 2.3,3.8,4.6,3.4,2.7,2.2, 2.1,2.9,3.6,3.6,3.2,2.6, 2.3,3.0,3.6,3.6,3.3,3.0, 2.5];
const cb52_obsSurf  = [2.6,2.9,3.0,2.7,2.5,2.4, 2.5,2.6,3.6,2.8,2.5,2.4, 2.5,2.7,3.0,2.8,2.5,2.5, 2.5,2.7,2.9,2.7,2.5,2.6, 2.7,2.9,3.2,3.0,2.8,2.9];
const cb52_obsBot   = [2.0,2.2,2.3,2.1,2.0,1.9, 2.0,2.2,2.4,2.0,1.9,2.0, 1.9,2.1,2.3,2.0,1.9,2.0, 2.0,2.2,2.3,2.1,2.0,1.9, 2.0,2.2,2.4,2.6,2.3,2.2];

// ---- CB5.3 ----
const cb53_ch3dSurf = [1.8,1.7,1.6,1.5,1.5,1.6, 1.6,1.7,1.8,1.6,1.5,1.5, 1.6,2.1,2.9,2.4,1.9,1.7, 1.9,2.5,2.8,2.2,1.9,1.7, 1.7,1.9,2.2,2.2,1.9,1.7, 2.5,2.9,2.7,2.2,1.9,1.7, 2.0,2.8,2.9,2.3,1.9,1.7, 1.9,2.6,2.9,2.3,1.9,1.7, 1.5];
const cb53_ch3dBot  = [1.5,1.4,1.2,0.9,0.9,1.1, 1.3,1.3,1.0,0.7,0.9,1.1, 1.3,1.6,1.5,1.1,1.0,1.2, 1.6,2.0,1.6,1.2,1.1,1.3, 1.4,1.5,1.3,0.9,0.8,1.2, 2.0,2.6,1.7,1.2,0.9,1.0, 1.8,2.5,1.8,1.2,1.0,1.1, 1.8,2.5,1.7,1.1,0.9,1.1, 1.3];
const cb53_runSurf  = [2.8,3.5,3.8,3.5,2.8,2.4, 2.3,3.0,3.7,3.4,2.7,2.3, 2.3,3.2,3.7,3.6,2.9,2.5, 2.5,3.2,3.8,3.4,2.9,2.5, 2.4,3.2,3.8,3.9,3.0,2.5, 2.3,3.6,4.2,3.6,2.9,2.4, 2.3,3.2,3.8,4.0,3.4,2.8, 2.4,3.0,3.6,3.7,3.6,3.2, 2.6];
const cb53_runBot   = [3.0,3.3,3.6,3.4,2.8,2.4, 2.3,2.9,3.4,3.2,2.6,2.3, 2.3,3.3,3.7,3.5,2.8,2.5, 2.5,3.3,3.7,3.3,2.8,2.5, 2.3,3.0,3.5,3.6,2.9,2.5, 2.4,3.8,4.3,3.5,2.8,2.4, 2.3,3.1,3.6,3.7,3.2,2.7, 2.4,3.1,3.6,3.6,3.4,3.0, 2.5];
const cb53_obsSurf  = [2.7,3.0,3.3,3.0,2.7,2.6, 2.7,3.1,3.5,3.2,2.8,2.6, 2.5,2.8,3.3,3.0,2.7,2.6, 2.7,3.0,3.2,3.0,2.8,2.7, 2.8,3.0,3.4,3.2,2.9,3.0];
const cb53_obsBot   = [1.8,2.0,2.3,2.0,1.9,1.8, 1.9,2.1,2.4,2.2,2.0,1.9, 1.8,2.0,2.2,2.0,1.9,2.0, 2.1,2.3,2.6,2.4,2.2,2.0, 2.2,2.5,2.8,2.7,2.4,2.6];

// ---- CB5.4 ----
const cb54_ch3dSurf = [2.0,1.8,1.7,1.6,1.5,1.6, 1.7,1.8,1.9,1.7,1.5,1.6, 1.7,2.3,3.0,2.4,1.9,1.7, 2.0,2.6,2.9,2.3,1.9,1.7, 1.7,2.0,2.4,2.4,2.0,1.8, 2.5,3.0,2.8,2.2,1.9,1.7, 2.0,2.6,2.9,2.3,2.0,1.8, 1.9,2.5,2.9,2.3,1.8,1.6, 1.3];
const cb54_ch3dBot  = [1.5,1.6,1.3,1.0,0.8,1.1, 1.3,1.4,1.2,0.9,0.8,1.1, 1.3,1.9,2.5,1.5,1.1,1.2, 1.5,2.3,2.0,1.4,1.1,1.3, 1.4,1.6,1.8,1.4,1.0,0.9, 1.9,2.7,1.9,1.4,1.1,1.1, 1.6,2.2,2.4,1.6,1.1,1.0, 1.5,2.0,2.4,1.7,1.2,1.2, 1.2];
const cb54_runSurf  = [2.8,3.5,3.9,3.6,2.8,2.2, 2.0,2.8,3.5,3.7,3.0,2.3, 2.0,3.0,3.6,3.8,3.0,2.4, 2.2,3.0,3.8,3.9,3.0,2.3, 2.0,2.8,3.6,3.8,3.2,2.5, 2.0,3.3,3.9,3.6,2.9,2.3, 2.0,2.8,3.6,4.0,3.5,2.7, 2.0,2.8,3.5,3.8,3.6,3.1, 2.4];
const cb54_runBot   = [2.9,3.3,3.6,3.3,2.7,2.2, 2.0,2.7,3.2,3.4,2.8,2.2, 2.0,3.0,3.5,3.6,2.9,2.4, 2.2,3.1,3.7,3.6,2.9,2.3, 2.0,2.7,3.3,3.5,3.0,2.4, 2.1,3.8,4.2,3.5,2.8,2.3, 2.0,2.7,3.2,3.5,3.2,2.6, 2.1,2.8,3.4,3.7,3.4,3.0, 2.3];
const cb54_obsSurf  = [3.4,3.6,4.0,3.7,3.3,3.4, 3.6,3.9,3.4,3.5,3.3,3.2, 3.4,3.8,4.0,3.7,3.4,3.3, 3.6,3.9,3.6,3.4,3.2,3.5, 3.6,3.8,3.9,3.6,3.4,3.7];
const cb54_obsBot   = [3.2,3.0,3.3,3.1,2.9,3.0, 3.1,3.3,3.6,3.2,3.0,3.1, 3.0,3.3,3.6,3.4,3.0,2.9, 3.0,3.2,3.5,3.3,3.0,3.1, 3.0,3.3,3.4,3.6,3.2,3.1];

// ---- CB5.5 ----
const cb55_ch3dSurf = [1.7,1.6,1.5,1.3,1.3,1.5, 1.5,1.6,1.5,1.3,1.2,1.4, 1.5,2.0,2.5,2.0,1.6,1.5, 1.7,2.2,2.3,1.9,1.6,1.5, 1.5,1.7,1.9,1.9,1.6,1.5, 2.0,2.6,2.4,2.0,1.7,1.5, 1.8,2.4,2.6,2.1,1.8,1.6, 1.7,2.3,2.6,2.1,1.7,1.5, 1.4];
const cb55_ch3dBot  = [1.5,1.4,1.2,1.0,1.1,1.2, 1.4,1.4,1.2,1.0,1.0,1.2, 1.3,1.8,2.4,1.6,1.3,1.3, 1.5,2.0,2.1,1.6,1.3,1.3, 1.3,1.4,1.5,1.4,1.1,1.2, 1.8,2.4,2.0,1.5,1.2,1.2, 1.6,2.2,2.3,1.7,1.3,1.2, 1.6,2.1,2.4,1.7,1.3,1.2, 1.2];
const cb55_runSurf  = [2.5,3.3,3.8,3.5,2.8,2.3, 2.0,2.6,3.2,3.3,2.8,2.3, 2.1,3.0,3.6,3.8,3.2,2.4, 2.1,2.9,3.5,3.3,2.8,2.3, 2.0,2.8,3.4,3.7,3.1,2.5, 2.1,3.3,4.0,3.5,2.8,2.3, 2.0,2.9,3.6,3.9,3.4,2.7, 2.1,2.8,3.4,3.8,3.5,3.0, 2.4];
const cb55_runBot   = [2.5,3.1,3.6,3.3,2.7,2.2, 2.0,2.5,3.0,3.1,2.6,2.2, 2.1,2.9,3.4,3.5,3.0,2.4, 2.1,2.8,3.3,3.2,2.7,2.3, 2.0,2.7,3.2,3.4,2.9,2.4, 2.1,3.3,3.8,3.3,2.7,2.2, 2.0,2.7,3.3,3.5,3.1,2.6, 2.1,2.7,3.3,3.5,3.2,2.8, 2.3];
const cb55_obsSurf  = [4.2,3.3,3.5,3.6,3.4,3.2, 3.3,3.4,3.6,3.7,3.5,3.3, 3.4,3.5,3.6,3.8,4.8,3.5, 3.4,3.5,3.6,3.5,3.4,3.6, 3.5,3.6,3.8,3.6,3.5,3.7];
const cb55_obsBot   = [3.5,3.0,3.2,3.4,3.3,3.1, 3.0,3.2,3.3,3.5,3.2,3.1, 3.2,3.3,3.4,3.5,4.4,3.2, 3.3,3.4,3.5,3.2,3.1,3.3, 3.2,3.3,3.4,3.3,3.2,3.5];

// ---- CB6.1 ----
const cb61_ch3dSurf = [1.7,1.6,1.5,1.3,1.2,1.4, 1.5,1.5,1.4,1.2,1.2,1.4, 1.4,2.0,2.9,2.2,1.7,1.5, 1.7,2.4,2.6,2.0,1.6,1.5, 1.5,1.7,1.9,1.9,1.6,1.5, 2.2,2.9,2.5,2.0,1.7,1.5, 1.8,2.4,2.6,2.1,1.7,1.5, 1.7,2.4,2.8,2.1,1.6,1.4, 1.2];
const cb61_ch3dBot  = [1.6,1.5,1.3,1.1,1.0,1.3, 1.4,1.4,1.3,1.0,1.1,1.3, 1.3,1.9,2.8,2.0,1.5,1.4, 1.6,2.3,2.4,1.8,1.4,1.4, 1.4,1.5,1.7,1.7,1.4,1.4, 2.0,2.7,2.2,1.7,1.4,1.3, 1.6,2.2,2.4,1.8,1.4,1.3, 1.5,2.2,2.6,1.8,1.4,1.3, 1.2];
const cb61_runSurf  = [2.5,3.3,3.8,3.5,2.8,2.3, 2.0,2.6,3.3,3.5,2.9,2.3, 2.0,2.9,3.6,3.9,3.2,2.4, 2.2,2.9,3.6,3.4,2.8,2.3, 2.0,2.7,3.3,3.6,3.2,2.5, 2.0,3.3,4.0,3.5,2.8,2.3, 2.0,2.8,3.6,4.0,3.4,2.7, 2.1,2.7,3.4,3.9,3.6,3.0, 2.4];
const cb61_runBot   = [2.5,3.2,3.6,3.3,2.7,2.2, 2.0,2.5,3.1,3.3,2.7,2.2, 2.0,2.8,3.4,3.6,3.0,2.3, 2.2,2.8,3.4,3.2,2.7,2.2, 2.0,2.6,3.1,3.3,3.0,2.4, 2.0,3.3,3.7,3.2,2.7,2.2, 2.0,2.6,3.2,3.4,3.1,2.5, 2.0,2.6,3.1,3.4,3.2,2.8, 2.2];
const cb61_obsSurf  = [3.6,3.3,3.5,3.6,3.4,3.5, 3.3,3.6,3.9,3.6,3.2,3.4, 3.3,3.8,4.8,3.9,3.5,3.5, 3.3,3.6,3.8,3.6,3.4,3.5, 3.3,3.6,3.8,4.0,3.6,3.5];
const cb61_obsBot   = [3.2,3.0,3.5,3.2,2.9,3.0, 3.0,3.2,3.3,3.0,2.8,3.1, 3.0,3.5,3.8,3.5,3.2,3.0, 3.0,3.2,3.4,3.2,3.0,3.1, 3.0,3.3,3.4,3.2,3.0,3.3];

// ---- CB6.2 ----
const cb62_ch3dSurf = [1.6,1.7,1.5,1.3,1.1,1.3, 1.5,1.5,1.4,1.1,1.1,1.4, 1.4,2.0,2.9,2.2,1.7,1.5, 1.7,2.5,2.7,2.0,1.6,1.5, 1.5,1.7,1.8,1.8,1.5,1.4, 2.1,2.8,2.5,2.0,1.7,1.5, 1.8,2.4,2.7,2.1,1.7,1.5, 1.7,2.4,2.8,2.1,1.6,1.4, 1.3];
const cb62_ch3dBot  = [1.6,1.7,1.4,1.2,1.0,1.3, 1.5,1.5,1.4,1.0,1.1,1.4, 1.4,2.0,2.9,2.1,1.6,1.5, 1.7,2.4,2.6,1.9,1.5,1.5, 1.5,1.7,1.8,1.7,1.5,1.4, 2.1,2.7,2.3,1.8,1.5,1.4, 1.7,2.3,2.6,1.9,1.5,1.4, 1.6,2.3,2.7,2.0,1.5,1.3, 1.3];
const cb62_runSurf  = [2.5,3.3,3.7,3.4,2.7,2.2, 2.0,2.7,3.4,3.6,2.9,2.3, 2.0,2.9,3.6,3.9,3.2,2.4, 2.2,2.9,3.7,3.5,2.8,2.3, 2.0,2.7,3.4,3.7,3.1,2.4, 2.0,3.3,4.0,3.4,2.7,2.2, 2.0,2.8,3.5,3.9,3.3,2.6, 2.0,2.8,3.5,4.0,3.6,3.0, 2.3];
const cb62_runBot   = [2.5,3.1,3.4,3.2,2.6,2.1, 1.9,2.5,3.1,3.3,2.7,2.2, 1.9,2.8,3.3,3.5,3.0,2.3, 2.1,2.8,3.4,3.2,2.7,2.2, 1.9,2.6,3.1,3.4,2.9,2.3, 2.0,3.2,3.6,3.2,2.6,2.1, 1.9,2.6,3.2,3.5,3.1,2.5, 1.9,2.6,3.2,3.6,3.3,2.8, 2.2];
const cb62_obsSurf  = [3.8,3.5,3.7,3.6,3.3,3.2, 3.6,3.8,4.1,3.7,3.4,3.5, 3.5,3.9,4.2,3.8,3.4,3.4, 3.5,3.7,3.9,3.6,3.3,3.5, 3.6,3.8,3.9,3.6,3.4,3.5];
const cb62_obsBot   = [3.4,3.0,3.3,3.2,2.8,3.0, 3.5,3.2,3.8,3.4,3.0,3.2, 3.3,3.6,3.9,3.5,3.0,2.9, 3.0,3.2,3.5,3.0,2.8,3.1, 3.0,3.3,3.6,3.4,3.0,3.1];

// ---- CB6.3 ----
const cb63_ch3dSurf = [1.6,1.7,1.5,1.3,1.1,1.3, 1.5,1.6,1.4,1.1,1.1,1.3, 1.4,2.0,2.9,2.2,1.7,1.5, 1.7,2.5,2.7,2.0,1.6,1.5, 1.5,1.7,1.9,1.8,1.5,1.4, 2.1,2.8,2.5,2.0,1.7,1.5, 1.8,2.4,2.7,2.1,1.7,1.5, 1.7,2.4,2.8,2.1,1.6,1.4, 1.3];
const cb63_ch3dBot  = [1.6,1.7,1.5,1.2,1.1,1.3, 1.5,1.6,1.4,1.1,1.1,1.3, 1.4,2.0,2.8,2.1,1.6,1.5, 1.7,2.4,2.6,1.9,1.5,1.5, 1.5,1.7,1.8,1.7,1.5,1.4, 2.1,2.7,2.3,1.8,1.5,1.4, 1.7,2.3,2.5,1.9,1.5,1.4, 1.6,2.3,2.6,2.0,1.5,1.3, 1.2];
const cb63_runSurf  = [2.5,3.3,3.8,3.4,2.7,2.2, 2.0,2.8,3.5,3.6,2.8,2.2, 2.0,3.0,3.7,3.9,3.1,2.4, 2.2,2.9,3.7,3.5,2.8,2.3, 2.0,2.7,3.5,3.8,3.1,2.4, 2.0,3.3,4.0,3.5,2.8,2.3, 2.0,2.8,3.6,4.0,3.4,2.7, 2.0,2.8,3.5,3.9,3.6,3.0, 2.4];
const cb63_runBot   = [2.5,3.2,3.5,3.2,2.6,2.1, 1.9,2.6,3.2,3.3,2.6,2.1, 1.9,2.9,3.4,3.6,2.9,2.3, 2.1,2.8,3.4,3.3,2.7,2.2, 1.9,2.6,3.2,3.4,2.9,2.3, 2.0,3.2,3.7,3.3,2.7,2.2, 1.9,2.6,3.3,3.5,3.1,2.5, 1.9,2.6,3.2,3.5,3.3,2.8, 2.2];
const cb63_obsSurf  = [3.5,3.3,3.7,3.5,3.3,3.4, 3.4,3.5,3.9,3.6,3.3,3.4, 3.5,3.7,4.0,3.8,3.6,3.5, 3.4,3.6,3.8,3.6,3.3,3.5, 3.4,3.6,3.7,3.5,3.3,3.5];
const cb63_obsBot   = [3.0,2.9,3.2,3.3,2.9,2.8, 3.0,3.1,3.4,3.2,2.9,3.0, 3.1,3.3,3.8,3.5,3.7,2.9, 2.8,3.2,3.5,3.1,2.8,3.0, 3.0,3.2,3.4,3.2,2.8,3.2];

// ---- CB6.4 ----
const cb64_ch3dSurf = [1.5,1.5,1.4,1.1,1.0,1.3, 1.4,1.4,1.3,1.0,1.0,1.3, 1.3,2.0,2.7,2.1,1.6,1.4, 1.6,2.4,2.5,1.9,1.5,1.4, 1.4,1.6,1.7,1.7,1.4,1.4, 2.0,2.7,2.3,1.8,1.6,1.4, 1.7,2.3,2.5,2.0,1.6,1.4, 1.6,2.3,2.6,2.0,1.5,1.3, 1.2];
const cb64_ch3dBot  = [1.5,1.6,1.4,1.2,1.1,1.3, 1.4,1.5,1.3,1.1,1.1,1.3, 1.3,2.0,2.7,2.0,1.5,1.4, 1.6,2.3,2.5,1.8,1.4,1.4, 1.4,1.6,1.7,1.6,1.4,1.4, 2.0,2.7,2.2,1.7,1.4,1.3, 1.6,2.2,2.4,1.8,1.4,1.3, 1.5,2.2,2.5,1.9,1.4,1.3, 1.2];
const cb64_runSurf  = [2.4,3.2,3.6,3.3,2.6,2.1, 1.9,2.6,3.3,3.3,2.7,2.1, 1.9,2.9,3.6,3.7,3.0,2.3, 2.0,2.8,3.5,3.3,2.7,2.1, 1.9,2.6,3.3,3.4,2.9,2.3, 1.9,3.3,3.8,3.4,2.7,2.1, 1.9,2.7,3.4,3.8,3.3,2.6, 1.9,2.7,3.4,3.7,3.6,3.0, 2.2];
const cb64_runBot   = [2.3,2.9,3.1,2.9,2.4,2.0, 1.8,2.4,2.9,2.9,2.4,2.0, 1.8,2.6,3.1,3.2,2.7,2.1, 1.9,2.6,3.1,2.9,2.5,2.0, 1.8,2.4,2.9,3.0,2.6,2.1, 1.8,2.9,3.3,3.0,2.5,2.0, 1.8,2.4,3.0,3.2,2.9,2.4, 1.8,2.4,2.9,3.2,3.1,2.7, 2.0];
const cb64_obsSurf  = [2.4,2.6,2.8,2.5,2.3,2.3, 2.4,2.3,2.6,2.5,2.3,2.4, 2.4,2.7,3.0,2.7,2.4,2.3, 2.4,2.6,3.0,2.8,2.4,2.3, 2.3,2.5,2.9,3.0,2.7,2.5];
const cb64_obsBot   = [2.0,2.3,2.5,2.2,2.0,2.1, 2.2,2.0,2.3,1.9,1.8,2.0, 2.1,2.4,2.7,2.3,2.0,2.2, 2.0,2.2,2.8,2.5,2.0,2.2, 1.9,2.2,2.5,2.8,2.4,2.3];

// ---- CB7.1 ----
const cb71_ch3dSurf = [1.5,1.7,1.5,1.2,1.1,1.3, 1.4,1.4,1.3,1.0,1.0,1.3, 1.3,2.0,3.0,2.2,1.6,1.4, 1.6,2.5,2.8,2.0,1.5,1.4, 1.4,1.6,1.7,1.7,1.4,1.3, 2.0,3.0,2.6,2.0,1.6,1.4, 1.6,2.2,2.5,2.1,1.6,1.4, 1.5,2.2,2.8,2.0,1.5,1.3, 1.2];
const cb71_ch3dBot  = [1.4,1.5,1.3,1.1,0.9,1.2, 1.3,1.3,1.2,0.9,0.9,1.2, 1.2,1.7,2.4,1.8,1.4,1.3, 1.5,2.2,2.3,1.7,1.3,1.2, 1.3,1.4,1.5,1.4,1.2,1.2, 1.6,2.2,1.9,1.5,1.3,1.2, 1.4,1.8,2.0,1.6,1.3,1.2, 1.4,1.9,2.3,1.7,1.3,1.2, 1.2];
const cb71_runSurf  = [2.5,3.1,3.5,3.3,2.6,2.1, 1.8,2.5,3.2,3.4,2.7,2.1, 1.9,2.9,3.6,3.8,3.0,2.3, 2.0,2.9,3.6,3.6,2.8,2.2, 1.9,2.6,3.2,3.4,2.9,2.3, 1.9,3.3,3.8,3.4,2.7,2.1, 1.9,2.7,3.4,3.8,3.3,2.6, 1.9,2.7,3.4,3.8,3.6,3.0, 2.3];
const cb71_runBot   = [2.4,3.0,3.4,3.1,2.5,2.0, 1.8,2.4,3.1,3.2,2.6,2.0, 1.8,2.8,3.4,3.6,2.9,2.2, 1.9,2.8,3.4,3.4,2.7,2.1, 1.8,2.5,3.1,3.3,2.8,2.2, 1.8,3.2,3.6,3.3,2.6,2.0, 1.8,2.6,3.3,3.6,3.2,2.5, 1.8,2.6,3.3,3.6,3.4,2.9, 2.2];
const cb71_obsSurf  = [3.4,3.5,3.7,3.4,3.2,3.5, 3.6,3.7,3.9,3.5,3.2,3.4, 3.5,4.0,4.2,3.8,3.5,3.4, 3.3,3.6,3.9,3.6,3.3,3.4, 3.3,3.5,3.7,3.5,3.3,4.1];
const cb71_obsBot   = [3.0,3.2,3.6,3.4,3.0,3.2, 3.3,3.4,3.0,3.2,2.9,3.0, 3.1,3.6,3.9,3.5,3.2,3.0, 2.9,3.2,3.5,3.2,2.9,3.0, 3.0,3.2,3.4,3.3,3.1,3.2];

// ---- CB7.2 ----
const cb72_ch3dSurf = [1.5,1.6,1.4,1.1,1.0,1.3, 1.4,1.4,1.2,1.0,1.0,1.3, 1.3,2.0,2.6,2.1,1.6,1.4, 1.6,2.3,2.5,1.9,1.5,1.4, 1.4,1.6,1.7,1.7,1.4,1.4, 2.0,2.7,2.3,1.8,1.6,1.4, 1.7,2.3,2.5,2.0,1.6,1.4, 1.6,2.2,2.6,2.0,1.5,1.3, 1.2];
const cb72_ch3dBot  = [1.5,1.6,1.5,1.3,1.2,1.4, 1.5,1.5,1.4,1.2,1.2,1.4, 1.4,1.9,2.5,2.0,1.6,1.5, 1.6,2.2,2.3,1.8,1.5,1.5, 1.5,1.6,1.7,1.6,1.5,1.5, 2.0,2.6,2.2,1.8,1.5,1.4, 1.7,2.3,2.4,1.9,1.5,1.4, 1.6,2.1,2.3,1.8,1.4,1.3, 1.3];
const cb72_runSurf  = [2.4,3.2,3.6,3.4,2.6,2.0, 1.8,2.6,3.3,3.5,2.7,2.0, 1.9,2.9,3.5,3.8,3.0,2.2, 2.0,2.9,3.6,3.6,2.8,2.2, 1.9,2.7,3.5,3.7,3.0,2.3, 1.9,3.3,3.9,3.5,2.7,2.1, 1.9,2.8,3.5,3.9,3.4,2.6, 1.9,2.8,3.5,3.8,3.6,3.0, 2.3];
const cb72_runBot   = [2.2,2.9,3.2,3.0,2.4,1.9, 1.7,2.4,3.0,3.1,2.5,1.9, 1.8,2.7,3.2,3.4,2.8,2.1, 1.9,2.7,3.3,3.2,2.6,2.0, 1.8,2.5,3.2,3.3,2.7,2.1, 1.8,3.1,3.5,3.2,2.5,2.0, 1.8,2.6,3.2,3.4,3.1,2.4, 1.8,2.6,3.2,3.5,3.3,2.8, 2.0];
const cb72_obsSurf  = [3.0,3.3,3.6,3.3,3.0,2.9, 3.0,3.8,3.9,3.4,3.0,2.9, 3.0,3.8,4.0,3.6,3.2,3.0, 3.0,3.5,3.8,3.4,3.0,2.8, 2.9,3.2,3.6,3.5,3.1,3.3];
const cb72_obsBot   = [2.8,3.0,3.3,3.0,2.7,2.6, 2.8,3.2,3.3,3.0,2.6,2.5, 2.6,3.3,3.6,3.3,2.7,2.5, 2.6,3.0,3.3,3.0,2.6,2.4, 2.6,2.9,3.2,3.0,2.7,2.8];

// ---- CB7.3 ----
const cb73_ch3dSurf = [2.0,1.6,1.6,1.5,1.4,1.5, 1.5,1.5,1.4,1.3,1.3,1.5, 1.5,1.9,2.3,2.0,1.7,1.6, 1.6,2.0,2.2,1.9,1.6,1.5, 1.5,1.6,1.7,1.7,1.5,1.4, 1.8,2.4,2.2,1.9,1.7,1.5, 1.6,2.1,2.4,2.0,1.7,1.5, 1.6,2.0,2.4,2.1,1.7,1.4, 1.3];
const cb73_ch3dBot  = [2.0,1.8,1.8,1.7,1.6,1.7, 1.7,1.7,1.7,1.6,1.6,1.7, 1.7,2.0,2.4,2.1,1.9,1.8, 1.8,2.2,2.3,2.0,1.8,1.7, 1.7,1.8,1.9,1.8,1.7,1.7, 2.0,2.5,2.3,2.0,1.8,1.7, 1.8,2.2,2.4,2.1,1.8,1.7, 1.7,2.1,2.4,2.1,1.8,1.6, 1.5];
const cb73_runSurf  = [2.0,2.8,3.4,3.0,2.4,2.0, 1.9,2.5,3.0,3.2,2.6,2.0, 1.9,2.7,3.4,3.6,2.9,2.2, 2.0,2.7,3.4,3.4,2.8,2.2, 1.9,2.5,3.0,3.2,2.8,2.2, 1.9,3.2,3.7,3.2,2.7,2.1, 1.9,2.7,3.3,3.6,3.1,2.5, 1.9,2.6,3.2,3.6,3.4,2.9, 2.2];
const cb73_runBot   = [0.2,2.4,3.0,2.7,2.2,1.8, 1.7,2.2,2.7,2.8,2.3,1.8, 1.7,2.4,2.9,3.1,2.6,2.0, 1.8,2.4,2.9,2.9,2.5,2.0, 1.7,2.2,2.6,2.8,2.5,2.0, 1.7,2.7,3.1,2.8,2.4,1.9, 1.7,2.3,2.8,3.0,2.7,2.2, 1.7,2.3,2.8,3.1,2.9,2.5, 2.0];
const cb73_obsSurf  = [2.2,2.5,2.7,2.3,2.1,2.1, 2.2,2.4,2.8,2.4,2.1,2.1, 2.1,2.5,2.9,2.6,2.2,2.1, 2.1,2.4,2.8,2.5,2.1,2.0, 2.0,2.3,2.7,2.8,2.3,2.1];
const cb73_obsBot   = [1.8,2.0,2.2,1.9,1.7,1.8, 1.9,2.1,2.3,2.0,1.8,1.9, 1.8,2.2,2.6,2.3,1.9,1.8, 1.8,2.0,2.4,2.1,1.8,1.7, 1.6,1.9,2.2,2.4,2.0,1.8];

// ---- CB7.4 ----
const cb74_ch3dSurf = [1.7,1.5,1.6,1.5,1.4,1.5, 1.5,1.5,1.5,1.4,1.4,1.5, 1.5,1.8,2.1,1.9,1.6,1.5, 1.6,1.9,2.0,1.8,1.6,1.5, 1.5,1.6,1.7,1.7,1.5,1.4, 1.7,2.1,2.1,1.9,1.7,1.5, 1.6,1.9,2.2,2.0,1.7,1.5, 1.6,1.9,2.2,2.0,1.7,1.5, 1.4];
const cb74_ch3dBot  = [1.8,1.7,1.7,1.6,1.6,1.7, 1.7,1.7,1.7,1.6,1.6,1.7, 1.7,1.9,2.2,2.0,1.8,1.7, 1.8,2.0,2.1,1.9,1.8,1.7, 1.7,1.8,1.8,1.8,1.7,1.7, 1.9,2.2,2.1,1.9,1.8,1.7, 1.7,2.0,2.2,2.0,1.8,1.7, 1.7,2.0,2.2,2.0,1.7,1.6, 1.5];
const cb74_runSurf  = [2.0,2.6,3.2,2.8,2.3,1.9, 1.8,2.2,2.7,2.8,2.3,1.9, 1.8,2.4,3.1,3.3,2.7,2.1, 1.9,2.5,3.2,3.1,2.5,2.0, 1.8,2.3,2.8,3.0,2.6,2.0, 1.8,2.8,3.3,2.9,2.4,1.9, 1.8,2.4,3.0,3.3,2.8,2.3, 1.8,2.4,3.0,3.4,3.1,2.6, 2.0];
const cb74_runBot   = [0.2,2.2,2.8,2.5,2.1,1.7, 1.6,2.0,2.4,2.5,2.1,1.7, 1.6,2.2,2.7,2.9,2.4,1.9, 1.7,2.2,2.8,2.7,2.3,1.8, 1.6,2.1,2.5,2.7,2.3,1.8, 1.6,2.5,2.9,2.6,2.2,1.7, 1.6,2.2,2.6,2.9,2.5,2.0, 1.6,2.2,2.6,3.0,2.8,2.3, 1.8];
const cb74_obsSurf  = [1.8,2.1,2.6,2.1,1.9,1.9, 2.0,2.3,2.5,2.2,1.9,1.9, 2.0,2.4,2.8,2.4,2.1,1.9, 1.9,2.2,2.6,2.3,2.0,1.9, 1.9,2.2,2.6,2.7,2.2,2.0];
const cb74_obsBot   = [1.5,1.8,2.0,1.7,1.5,1.6, 1.7,1.9,2.1,1.8,1.6,1.7, 1.7,2.0,2.3,2.0,1.7,1.6, 1.6,1.8,2.1,1.8,1.6,1.5, 1.5,1.8,2.0,2.2,1.8,1.6];

// ---- CB8.1 ----
const cb81_ch3dSurf = [1.8,1.7,1.6,1.5,1.4,1.5, 1.5,1.5,1.5,1.3,1.3,1.5, 1.5,1.9,2.4,2.0,1.6,1.5, 1.7,2.1,2.3,1.9,1.6,1.5, 1.5,1.6,1.8,1.8,1.6,1.5, 2.0,2.8,2.6,2.1,1.8,1.6, 1.7,2.2,2.6,2.2,1.8,1.6, 1.7,2.3,2.6,2.3,1.8,1.5, 1.3];
const cb81_ch3dBot  = [1.8,1.7,1.7,1.6,1.6,1.7, 1.7,1.7,1.8,1.6,1.6,1.7, 1.6,1.9,2.3,2.0,1.7,1.7, 1.8,2.0,2.2,1.9,1.7,1.6, 1.6,1.7,1.8,1.8,1.7,1.6, 2.0,2.6,2.4,2.0,1.8,1.7, 1.6,1.9,2.0,1.7,1.6,1.6, 1.7,2.2,2.5,2.2,1.8,1.5, 1.4];
const cb81_runSurf  = [2.0,2.8,3.4,3.0,2.4,1.9, 1.7,2.3,2.8,3.0,2.4,1.8, 1.8,2.7,3.4,3.6,2.8,2.0, 1.9,2.7,3.4,3.3,2.6,2.0, 1.8,2.3,2.8,3.0,2.6,2.0, 1.8,3.1,3.5,3.1,2.5,1.9, 1.7,2.4,3.1,3.5,3.0,2.4, 1.7,2.5,3.2,3.6,3.3,2.8, 2.1];
const cb81_runBot   = [0.6,2.5,3.1,2.8,2.2,1.8, 1.6,2.1,2.6,2.8,2.2,1.7, 1.7,2.5,3.1,3.3,2.6,1.9, 1.8,2.5,3.1,3.0,2.4,1.9, 1.7,2.2,2.6,2.8,2.4,1.9, 1.7,2.9,3.3,2.9,2.4,1.8, 1.6,2.3,2.9,3.2,2.8,2.2, 1.6,2.4,3.0,3.4,3.1,2.6, 1.9];
const cb81_obsSurf  = [2.5,2.8,3.0,2.6,2.3,2.3, 2.6,2.8,3.0,2.7,2.4,2.3, 2.3,2.9,3.3,2.9,2.5,2.4, 2.4,2.8,3.0,2.8,2.5,2.4, 2.3,2.6,3.0,3.2,2.6,2.4];
const cb81_obsBot   = [1.9,1.7,2.0,2.2,1.8,1.7, 1.9,2.0,2.2,1.8,1.6,1.7, 1.8,2.2,2.5,2.0,1.7,1.8, 1.7,2.0,2.3,2.0,1.8,1.7, 1.7,1.9,2.2,2.4,1.9,1.8];

// Short-lived model spikes: station, series (0 CH3D surf, 1 CH3D bot, 2 RUN surf, 3 RUN bot), time, base, peak
const spikeStation = ['CB1.1','CB1.1','CB1.1','CB1.1','CB1.1','CB2.1','CB2.1','CB2.1',
                      'CB2.2','CB2.2','CB2.2','CB2.2','CB2.2','CB3.1','CB3.1','CB3.1','CB3.1',
                      'CB3.2','CB3.2','CB3.2','CB3.2','CB3.3C','CB4.1C','CB4.1C','CB4.1C',
                      'CB4.2C','CB4.2C','CB4.2C','CB4.3C','CB4.3C','CB4.3C','CB4.3C',
                      'CB4.4','CB4.4','CB4.4','CB5.1','CB5.1','CB5.2','CB5.2','CB5.2','CB5.3','CB5.4'];
const spikeSeries  = [1,1,1,1,3, 1,1,1, 0,1,1,0,0, 0,1,0,0, 0,0,1,0, 0, 0,3,3, 3,3,3, 3,3,3,0, 3,3,3, 3,3, 3,3,3, 3, 3];
const spikeTime    = [96.02,93.2,93.9,96.9,96.9, 96.02,93.95,93.7, 96.02,96.02,93.3,93.9,91.7,
                      96.05,93.3,93.9,91.75, 96.05,93.3,93.3,93.95, 96.05, 96.0,94.45,96.3,
                      94.4,96.3,98.3, 94.3,96.3,98.3,95.95, 94.35,96.3,98.3, 94.3,96.35,
                      94.3,96.3,98.3, 96.3, 96.3];
const spikeBase    = [0.5,2.5,1.5,1.0,1.5, 0.5,1.0,4.0, 1.2,1.2,2.5,2.0,2.5, 1.5,2.0,2.0,2.0,
                      1.8,2.2,1.8,1.8, 2.2, 2.0,4.0,4.5, 4.2,4.5,4.0, 4.2,4.5,4.0,2.0,
                      4.0,4.5,4.0, 4.0,4.5, 3.8,4.3,3.5, 4.0, 4.0];
const spikePeak    = [13.0,5.6,6.2,4.8,3.8, 8.0,5.4,6.8, 8.0,7.2,4.9,5.0,4.4, 7.0,4.8,4.5,3.7,
                      6.6,4.6,3.6,4.0, 5.9, 5.6,5.2,5.5, 5.0,5.1,4.8, 5.0,5.15,4.7,3.4,
                      5.0,5.1,4.8, 4.9,5.1, 4.6,5.4,4.3, 4.5, 4.6];

// Additional observations (0 = surface, 1 = bottom)
const extraStation = ['CB1.1','CB1.1','CB2.1','CB2.1','CB2.2',
  'CB3.3C','CB3.3C','CB3.3C','CB3.3C','CB3.3C','CB4.1C','CB4.1C','CB4.3C','CB4.4','CB4.4','CB4.4',
  'CB5.1','CB5.1','CB5.1','CB5.1','CB5.1','CB5.3','CB5.3','CB5.4','CB5.4','CB5.4','CB5.4','CB5.4',
  'CB5.5','CB5.5','CB5.5','CB6.1','CB6.1','CB6.1','CB6.1','CB6.1','CB6.1',
  'CB6.2','CB6.2','CB6.2','CB6.2','CB6.2','CB6.2','CB6.3','CB6.3','CB6.3','CB6.3','CB6.3',
  'CB6.4','CB6.4','CB6.4','CB6.4','CB6.4','CB6.4','CB6.4',
  'CB7.1','CB7.1','CB7.1','CB7.1','CB7.1','CB7.1','CB7.1',
  'CB7.2','CB7.2','CB7.2','CB7.2','CB7.2','CB7.2','CB7.2','CB7.2',
  'CB7.3','CB7.3','CB7.3','CB7.3','CB7.3','CB7.3','CB7.3',
  'CB7.4','CB7.4','CB7.4','CB7.4','CB7.4','CB7.4','CB7.4',
  'CB8.1','CB8.1','CB8.1','CB8.1','CB8.1','CB8.1','CB8.1','CB8.1','CB8.1','CB8.1','CB8.1'];
const extraKind = [0,0,1,0,1, 1,1,1,0,1, 1,0, 0, 0,0,0, 0,1,1,0,1, 0,0, 0,0,1,0,0, 0,1,1,
  0,0,1,1,1,0, 1,0,0,1,1,0, 0,0,0,1,1, 1,0,0,1,0,1,0, 0,0,1,0,0,0,1, 0,0,0,1,0,1,0,0,
  0,1,0,0,0,0,1, 1,0,0,0,0,0,1, 0,0,0,0,0,1,1,1,0,0,0];
const extraTime = [91.0,92.3,97.1,98.1,91.0, 92.6,92.75,98.0,98.0,98.05, 91.3,94.45, 91.6, 92.3,92.65,95.55,
  98.0,98.1,98.0,97.1,97.05, 92.2,94.55, 92.7,93.6,93.35,93.7,91.0, 93.6,93.6,93.95,
  95.6,93.55,93.45,94.1,91.8,92.6, 91.3,93.5,93.6,93.7,94.55,94.5, 91.0,93.6,94.0,94.5,94.0,
  95.8,95.4,95.7,94.55,94.45,94.0,94.6, 93.5,93.3,93.3,92.6,93.95,94.7,91.5,
  92.4,92.6,93.3,93.5,95.5,95.55,95.85,94.3, 91.65,94.5,94.55,92.3,92.5,95.5,95.6,
  91.4,93.4,93.6,95.6,91.6,95.5,94.45, 93.6,94.45,95.7,91.4,95.75,93.6,91.6,94.4,92.0,92.3,92.7];
const extraValue = [3.7,6.0,2.4,3.3,4.2, 4.8,4.0,4.7,4.6,3.6, 12.3,5.0, 4.9, 4.3,5.2,4.5,
  4.8,4.3,4.0,3.3,2.9, 4.0,4.0, 5.1,4.7,4.5,4.4,3.9, 7.0,5.9,4.5,
  6.7,5.4,5.0,4.9,4.1,4.3, 4.8,4.7,4.5,4.5,4.6,4.2, 4.4,4.7,4.7,4.3,4.1,
  4.9,4.1,3.7,3.9,3.6,3.5,3.7, 5.2,4.7,4.9,4.6,4.3,4.2,4.1,
  4.4,4.3,4.3,4.4,4.4,3.8,4.0,3.9, 5.5,5.0,3.6,3.2,3.4,3.4,3.2,
  12.5,4.5,4.2,4.1,3.7,3.4,3.3, 5.9,4.5,4.0,4.1,3.7,4.3,3.8,3.3,3.7,3.5,3.5];

// Y-axis extent and tick values for each station panel
const yExtent = [[-0.6,13.5],[-0.28,8.36],[-0.08,8.39],[0.05,7.39],[0.23,6.9],[0.68,5.96],
                 [0.05,12.9],[0.4,5.33],[0.4,5.33],[0.4,5.94],[0.35,5.67],[0.32,5.74],
                 [0.46,4.68],[0.4,5.3],[0.62,7.25],[0.98,6.92],[0.77,5.0],[0.78,4.95],
                 [0.79,5.14],[0.41,5.57],[0.72,4.67],[-0.05,5.74],[-0.43,13.02],[0.43,6.1]];
const yTickVals = [[0,5,10],[0,2,4,6,8],[0,2,4,6,8],[2,4,6],[2,4,6],[2,4],
                   [5,10],[1,2,3,4,5],[1,2,3,4,5],[2,4],[2,4],[2,4],
                   [1,2,3,4],[1,2,3,4,5],[2,4,6],[2,4,6],[1,2,3,4,5],[1,2,3,4],
                   [1,2,3,4,5],[2,4],[1,2,3,4],[0,2,4],[0,5,10],[2,4,6]];

// ---------------------------------------------------------------------------
const stationData = [
  [cb11_ch3dSurf,cb11_ch3dBot,cb11_runSurf,cb11_runBot,cb11_obsSurf,cb11_obsBot],
  [cb21_ch3dSurf,cb21_ch3dBot,cb21_runSurf,cb21_runBot,cb21_obsSurf,cb21_obsBot],
  [cb22_ch3dSurf,cb22_ch3dBot,cb22_runSurf,cb22_runBot,cb22_obsSurf,cb22_obsBot],
  [cb31_ch3dSurf,cb31_ch3dBot,cb31_runSurf,cb31_runBot,cb31_obsSurf,cb31_obsBot],
  [cb32_ch3dSurf,cb32_ch3dBot,cb32_runSurf,cb32_runBot,cb32_obsSurf,cb32_obsBot],
  [cb33c_ch3dSurf,cb33c_ch3dBot,cb33c_runSurf,cb33c_runBot,cb33c_obsSurf,cb33c_obsBot],
  [cb41c_ch3dSurf,cb41c_ch3dBot,cb41c_runSurf,cb41c_runBot,cb41c_obsSurf,cb41c_obsBot],
  [cb42c_ch3dSurf,cb42c_ch3dBot,cb42c_runSurf,cb42c_runBot,cb42c_obsSurf,cb42c_obsBot],
  [cb43c_ch3dSurf,cb43c_ch3dBot,cb43c_runSurf,cb43c_runBot,cb43c_obsSurf,cb43c_obsBot],
  [cb44_ch3dSurf,cb44_ch3dBot,cb44_runSurf,cb44_runBot,cb44_obsSurf,cb44_obsBot],
  [cb51_ch3dSurf,cb51_ch3dBot,cb51_runSurf,cb51_runBot,cb51_obsSurf,cb51_obsBot],
  [cb52_ch3dSurf,cb52_ch3dBot,cb52_runSurf,cb52_runBot,cb52_obsSurf,cb52_obsBot],
  [cb53_ch3dSurf,cb53_ch3dBot,cb53_runSurf,cb53_runBot,cb53_obsSurf,cb53_obsBot],
  [cb54_ch3dSurf,cb54_ch3dBot,cb54_runSurf,cb54_runBot,cb54_obsSurf,cb54_obsBot],
  [cb55_ch3dSurf,cb55_ch3dBot,cb55_runSurf,cb55_runBot,cb55_obsSurf,cb55_obsBot],
  [cb61_ch3dSurf,cb61_ch3dBot,cb61_runSurf,cb61_runBot,cb61_obsSurf,cb61_obsBot],
  [cb62_ch3dSurf,cb62_ch3dBot,cb62_runSurf,cb62_runBot,cb62_obsSurf,cb62_obsBot],
  [cb63_ch3dSurf,cb63_ch3dBot,cb63_runSurf,cb63_runBot,cb63_obsSurf,cb63_obsBot],
  [cb64_ch3dSurf,cb64_ch3dBot,cb64_runSurf,cb64_runBot,cb64_obsSurf,cb64_obsBot],
  [cb71_ch3dSurf,cb71_ch3dBot,cb71_runSurf,cb71_runBot,cb71_obsSurf,cb71_obsBot],
  [cb72_ch3dSurf,cb72_ch3dBot,cb72_runSurf,cb72_runBot,cb72_obsSurf,cb72_obsBot],
  [cb73_ch3dSurf,cb73_ch3dBot,cb73_runSurf,cb73_runBot,cb73_obsSurf,cb73_obsBot],
  [cb74_ch3dSurf,cb74_ch3dBot,cb74_runSurf,cb74_runBot,cb74_obsSurf,cb74_obsBot],
  [cb81_ch3dSurf,cb81_ch3dBot,cb81_runSurf,cb81_runBot,cb81_obsSurf,cb81_obsBot]
];

stationData.forEach((set, i) => {
  set.forEach((arr, k) => {
    const want = k < 4 ? tModel.length : tObs.length;
    if (arr.length !== want) throw new Error(stations[i] + ' series ' + k + ' has ' + arr.length + ' values, expected ' + want);
  });
});

// ---------------------------------------------------------------------------
// Styling
const FIG_W = 2469, FIG_H = 1195;
const lineColors = ['rgba(0,128,0,0.8)', 'rgba(0,0,0,0.85)', 'rgba(25,25,255,0.75)', 'rgba(191,0,191,0.68)'];
const obsStyle = [
  {symbol: 'triangle-up', color: '#ff0000', size: 7},
  {symbol: 'square', color: '#ffa500', size: 6}
];
const font = 'DejaVu Sans, Liberation Sans, sans-serif';

const colLeft0 = 47, colStep = 496.75, panelW = 423;
const rowTop0 = 14, rowStep = 241, panelH = 186;

const traces = [];
const layout = {
  width: FIG_W, height: FIG_H,
  margin: {l: 0, r: 0, t: 0, b: 0},
  paper_bgcolor: '#ffffff', plot_bgcolor: '#ffffff',
  font: {family: font, size: 14, color: '#222222'},
  showlegend: true,
  legend: {
    x: 2027 / FIG_W, y: 1 - 1007 / FIG_H, xanchor: 'left', yanchor: 'top',
    bgcolor: '#ffffff', bordercolor: '#cccccc', borderwidth: 1,
    font: {family: font, size: 17, color: '#333333'},
    tracegroupgap: 2, itemwidth: 50
  },
  annotations: []
};

stations.forEach((name, i) => {
  const col = i % 5, row = Math.floor(i / 5);
  const suffix = i === 0 ? '' : String(i + 1);
  const xa = 'x' + suffix, ya = 'y' + suffix;
  const left = colLeft0 + col * colStep, top = rowTop0 + row * rowStep;

  layout['xaxis' + suffix] = {
    domain: [left / FIG_W, (left + panelW) / FIG_W],
    anchor: ya, range: [91, 99],
    tickmode: 'array', tickvals: yearTicks, ticktext: yearTickText,
    showgrid: true, gridcolor: '#c4c4c4', gridwidth: 1,
    showline: true, mirror: true, linecolor: '#000000', linewidth: 1,
    ticks: 'outside', ticklen: 4, tickcolor: '#000000',
    tickfont: {size: 14, color: '#222222'}, zeroline: false, fixedrange: true
  };
  layout['yaxis' + suffix] = {
    domain: [1 - (top + panelH) / FIG_H, 1 - top / FIG_H],
    anchor: xa, range: yExtent[i],
    tickmode: 'array', tickvals: yTickVals[i],
    showgrid: false,
    showline: true, mirror: true, linecolor: '#000000', linewidth: 1,
    ticks: 'outside', ticklen: 4, tickcolor: '#000000',
    tickfont: {size: 14, color: '#222222'}, zeroline: false, fixedrange: true
  };

  const data = stationData[i];
  for (let s = 0; s < 4; s++) {
    traces.push({
      type: 'scatter', mode: 'lines', x: tModel, y: data[s],
      xaxis: xa, yaxis: ya, name: seriesNames[s], legendgroup: 'g' + s,
      showlegend: i === 0, hoverinfo: 'skip',
      line: {color: lineColors[s], width: 3.4, shape: 'linear'}
    });
    spikeStation.forEach((st, j) => {
      if (st === name && spikeSeries[j] === s) {
        traces.push({
          type: 'scatter', mode: 'lines', x: [spikeTime[j], spikeTime[j]], y: [spikeBase[j], spikePeak[j]],
          xaxis: xa, yaxis: ya, showlegend: false, hoverinfo: 'skip', legendgroup: 'g' + s,
          line: {color: lineColors[s], width: 2}
        });
      }
    });
  }
  for (let k = 0; k < 2; k++) {
    const xs = tObs.slice(), ys = data[4 + k].slice();
    extraStation.forEach((st, j) => {
      if (st === name && extraKind[j] === k) { xs.push(extraTime[j]); ys.push(extraValue[j]); }
    });
    traces.push({
      type: 'scatter', mode: 'markers', x: xs, y: ys,
      xaxis: xa, yaxis: ya, name: seriesNames[4 + k], legendgroup: 'g' + (4 + k),
      showlegend: i === 0, hoverinfo: 'skip', cliponaxis: true,
      marker: {symbol: obsStyle[k].symbol, color: obsStyle[k].color, size: obsStyle[k].size, line: {width: 0}}
    });
  }

  layout.annotations.push({
    text: '<b>' + name + '</b>', showarrow: false,
    xref: xa + ' domain', yref: ya + ' domain', x: 0.033, y: 0.845,
    xanchor: 'left', yanchor: 'middle',
    font: {family: font, size: 20, color: '#000000'}
  });
});

Plotly.newPlot('chart', traces, layout, {staticPlot: true, displayModeBar: false});
</script>
</body>
</html>
